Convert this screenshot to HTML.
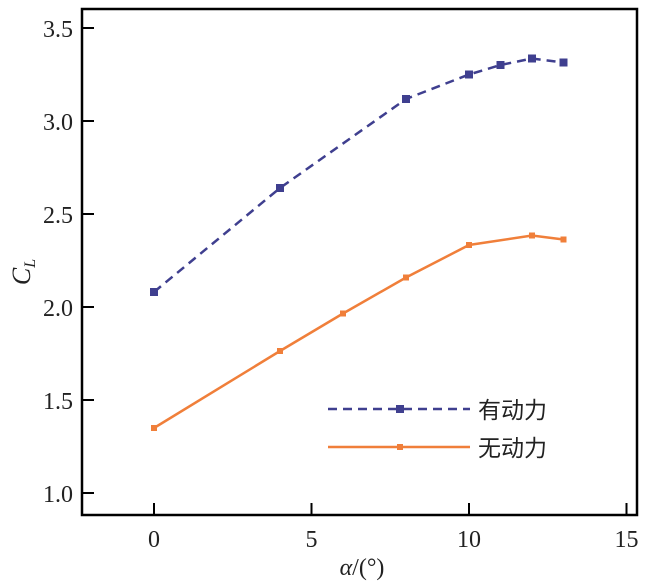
<html><body style="margin:0;background:#fff">
<svg width="650" height="582" xmlns="http://www.w3.org/2000/svg" style="font-family:'Liberation Serif','Noto Serif CJK SC',serif">
<rect x="82" y="9" width="555" height="506" fill="none" stroke="#000" stroke-width="2.5"/>
<g stroke="#000" stroke-width="2">
<line x1="154" y1="515" x2="154" y2="503"/><line x1="311.5" y1="515" x2="311.5" y2="503"/><line x1="469" y1="515" x2="469" y2="503"/><line x1="626.5" y1="515" x2="626.5" y2="503"/>
<line x1="82" y1="28" x2="94" y2="28"/><line x1="82" y1="121" x2="94" y2="121"/><line x1="82" y1="214" x2="94" y2="214"/><line x1="82" y1="307" x2="94" y2="307"/><line x1="82" y1="400" x2="94" y2="400"/><line x1="82" y1="493" x2="94" y2="493"/>
</g>
<g font-size="24" fill="#222" text-anchor="middle">
<text x="154" y="547">0</text><text x="311.5" y="547">5</text><text x="469" y="547">10</text><text x="626.5" y="547">15</text>
</g>
<g font-size="24" fill="#222" text-anchor="end">
<text x="73" y="37">3.5</text><text x="73" y="130">3.0</text><text x="73" y="223">2.5</text><text x="73" y="316">2.0</text><text x="73" y="409">1.5</text><text x="73" y="502">1.0</text>
</g>
<text x="362" y="575" font-size="24" text-anchor="middle" fill="#222"><tspan font-style="italic">α</tspan>/(°)</text>
<text transform="translate(30,272) rotate(-90)" font-size="26" font-style="italic" text-anchor="middle" fill="#222">C<tspan font-size="16" dy="5">L</tspan></text>
<polyline fill="none" stroke="#3f3f8f" stroke-width="2.5" stroke-dasharray="9,6" points="154,292 280,188 406,99 469,74.5 500.5,65 532,58.5 563.5,62.5"/>
<g fill="#3f3f8f">
<rect x="150" y="288" width="8" height="8"/><rect x="276" y="184" width="8" height="8"/><rect x="402" y="95" width="8" height="8"/><rect x="465" y="70.5" width="8" height="8"/><rect x="496.5" y="61" width="8" height="8"/><rect x="528" y="54.5" width="8" height="8"/><rect x="559.5" y="58.5" width="8" height="8"/>
<rect x="396" y="405" width="8" height="8"/>
</g>
<line x1="328" y1="409" x2="470" y2="409" stroke="#3f3f8f" stroke-width="2.5" stroke-dasharray="9,6"/>
<polyline fill="none" stroke="#f07f3a" stroke-width="2.5" points="154,428 280,351 343,313.5 406,277.5 469,245 532,235.5 563.5,239.5"/>
<g fill="#f07f3a">
<rect x="151" y="425" width="6" height="6"/><rect x="277" y="348" width="6" height="6"/><rect x="340" y="310.5" width="6" height="6"/><rect x="403" y="274.5" width="6" height="6"/><rect x="466" y="242" width="6" height="6"/><rect x="529" y="232.5" width="6" height="6"/><rect x="560.5" y="236.5" width="6" height="6"/>
<rect x="397" y="444" width="6" height="6"/>
</g>
<line x1="328" y1="447" x2="470" y2="447" stroke="#f07f3a" stroke-width="2.5"/>
<g font-size="23" fill="#222" font-family="'Noto Sans CJK SC',sans-serif">
<text x="478" y="418">有动力</text><text x="478" y="456">无动力</text>
</g>
</svg>
</body></html>
